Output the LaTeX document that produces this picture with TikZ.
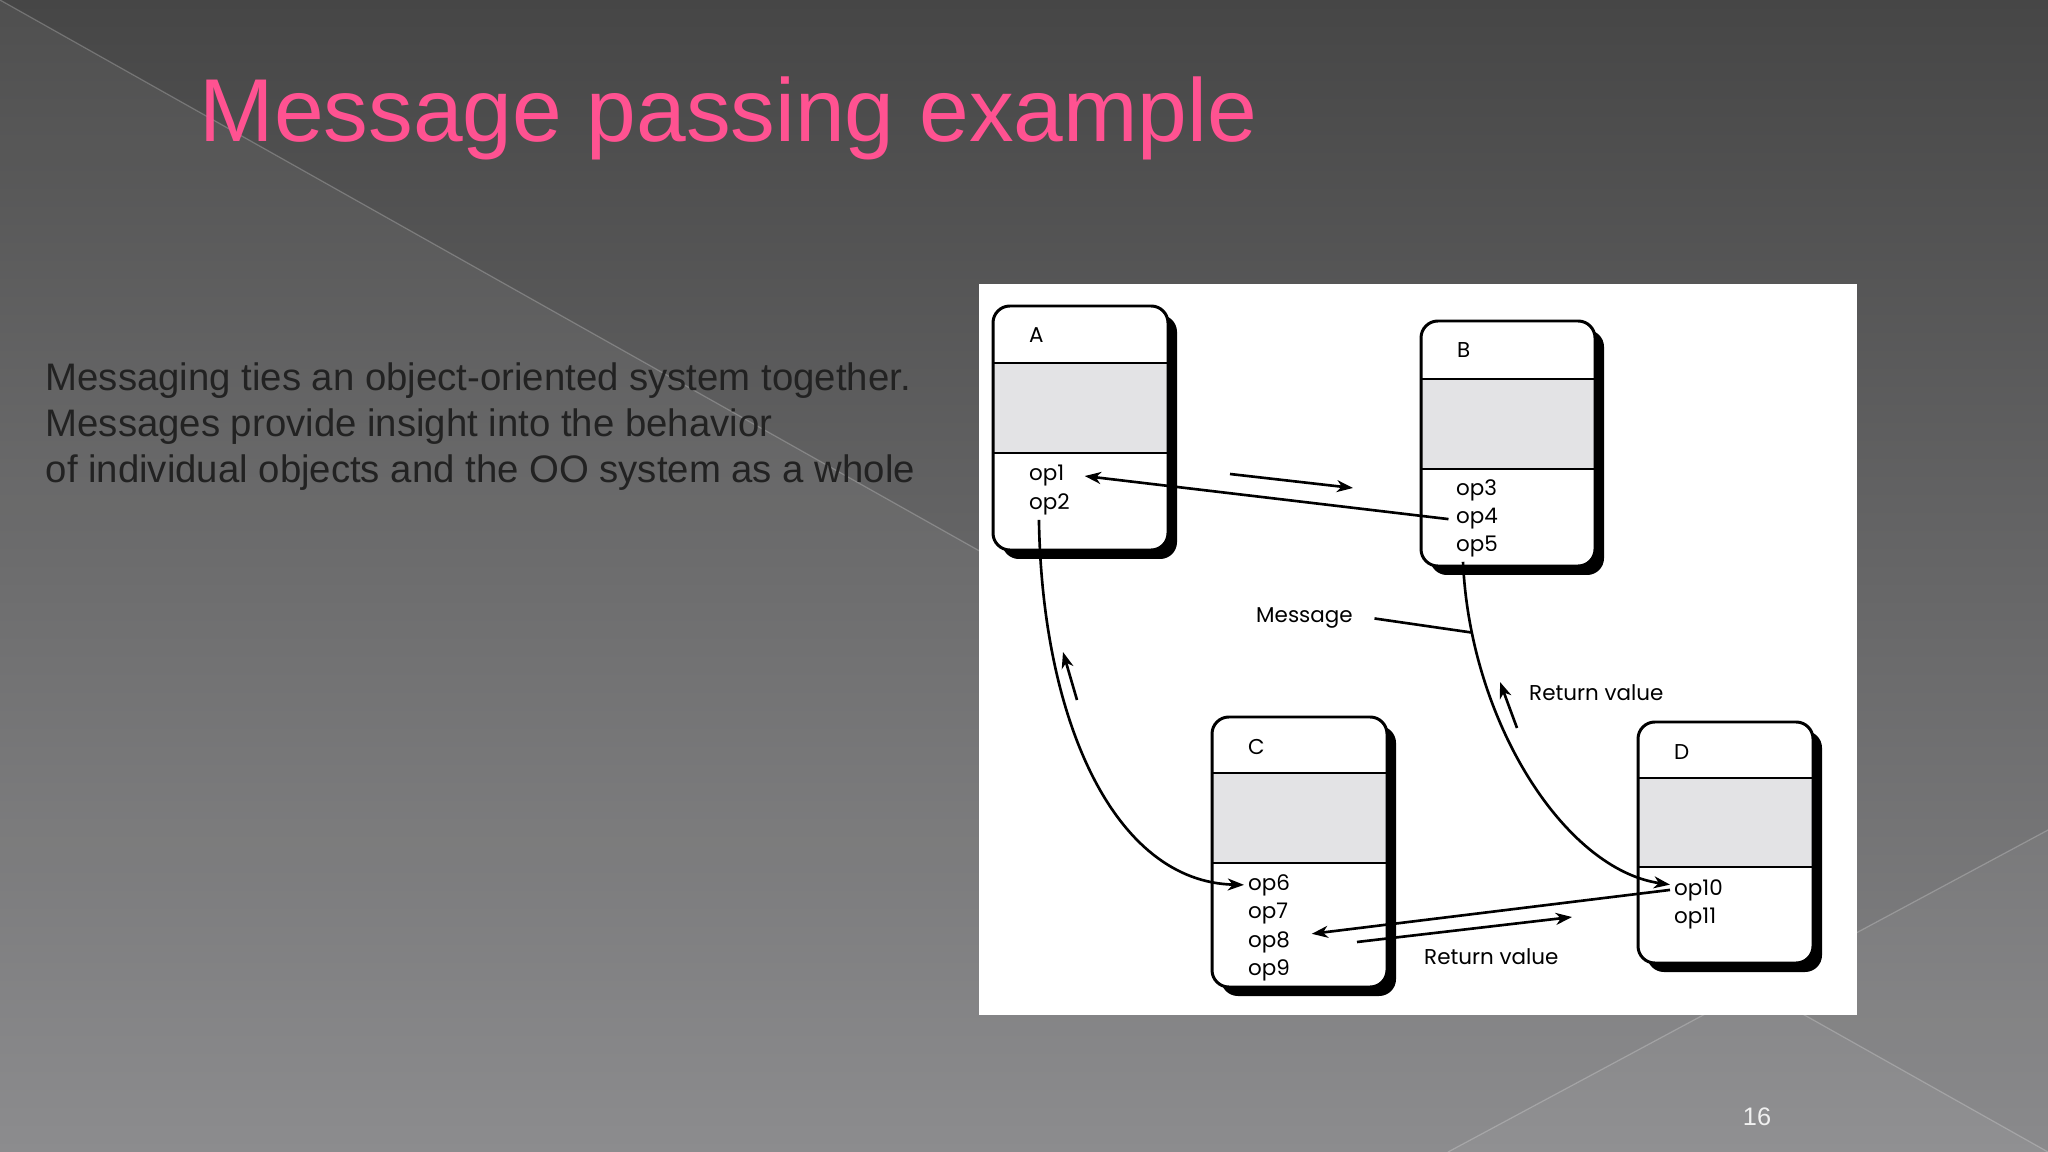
\documentclass[tikz,border=0pt]{standalone}
\usepackage{fontspec}
\setmainfont{Liberation Sans}
\newfontfamily\figfont{Poppins}
\usetikzlibrary{arrows.meta}
\definecolor{titlepink}{RGB}{255,82,145}
\definecolor{bodytext}{RGB}{34,34,34}
\definecolor{bandgray}{RGB}{227,227,229}
\definecolor{bgtop}{RGB}{70,70,70}
\definecolor{bgbot}{RGB}{134,134,136}

\newcommand{\objbox}[7]{%
  \fill[black,rounded corners=4.8pt] (#2+9,#3+9) rectangle (#4+9,#5+9);
  \fill[white,rounded corners=4.8pt] (#2,#3) rectangle (#4,#5);
  \fill[bandgray] (#2,#6) rectangle (#4,#7);
  \draw[boxline] (#2,#6) -- (#4,#6) (#2,#7) -- (#4,#7);
  \draw[boxline,rounded corners=4.8pt] (#2,#3) rectangle (#4,#5);
  \node[figtext,anchor=base west] (#1) at (#2+32,#3+37) {#1};
}

\begin{document}
\begin{tikzpicture}[x=0.01cm,y=-0.01cm,
    boxline/.style={line width=0.85pt},
    conn/.style={line width=0.75pt,>={Stealth[length=4.6pt,width=3.4pt,inset=1.4pt]}},
    figtext/.style={font=\figfont\fontsize{6.1pt}{7.2pt}\selectfont,inner sep=1pt},
    op/.style={figtext,anchor=base west},
    bodyline/.style={font=\fontsize{10.9pt}{13.1pt}\selectfont,text=bodytext,anchor=base west,inner sep=0pt}]
  \useasboundingbox (0,0) rectangle (2048,1152);
  \shade[top color=bgtop,bottom color=bgbot] (0,0) rectangle (2048,1152);
  \fill[white,opacity=0.05] (0,0) -- (2048,1152) -- (0,1152) -- cycle;
  \fill[white,opacity=0.04] (2048,830) -- (2048,1152) -- (1448,1152) -- cycle;
  \draw[white,opacity=0.22,line width=0.35pt] (0,0) -- (2048,1152);
  \draw[white,opacity=0.22,line width=0.35pt] (2048,830) -- (1448,1152);

  \node[font=\fontsize{25.4pt}{30pt}\selectfont,text=titlepink,anchor=base west,inner sep=0pt]
    (title) at (199,142) {Message passing example};
  \node[bodyline] (body1) at (45,391) {Messaging ties an object-oriented system together.};
  \node[bodyline] (body2) at (45,437) {Messages provide insight into the behavior};
  \node[bodyline] (body3) at (45,483) {of individual objects and the OO system as a whole};
  \node[font=\fontsize{7.2pt}{8pt}\selectfont,text=white!94!black,inner sep=0pt]
    (pagenum) at (1757,1117) {16};

  \fill[white] (979,284) rectangle (1857,1015);

  \objbox{A}{993}{306}{1168}{550}{363}{453}
  \objbox{B}{1421}{321}{1595}{566}{379}{469}
  \objbox{C}{1212}{717}{1387}{987}{773}{863}
  \objbox{D}{1638}{722}{1813}{963}{778}{867}

  \node[op] (op1) at (1025,481) {op1};
  \node[op] (op2) at (1025,510) {op2};
  \node[op] (op3) at (1452,495) {op3};
  \node[op] (op4) at (1452,524) {op4};
  \node[op] (op5) at (1452,552) {op5};
  \node[op] (op6) at (1244,890) {op6};
  \node[op] (op7) at (1244,918) {op7};
  \node[op] (op8) at (1244,947) {op8};
  \node[op] (op9) at (1244,975) {op9};
  \node[op] (op10) at (1670,895) {op10};
  \node[op] (op11) at (1670,923) {op11};

  \node[op] (msg) at (1252,623) {Message};
  \node[op] (ret1) at (1525,700) {Return value};
  \node[op] (ret2) at (1420,964) {Return value};

  \coordinate (ma1) at (1230,474);
  \coordinate (ma2) at (1353,488);
  \coordinate (ra1) at (1077,700);
  \coordinate (ra2) at (1063,652);
  \coordinate (ra3) at (1517,728);
  \coordinate (ra4) at (1500,682);
  \coordinate (ra5) at (1357,942);
  \coordinate (ra6) at (1572,917);

  \begin{scope}[conn]
    \draw[->] ([xshift=-1pt]op4.west) -- ([xshift=4.6pt]op1.east);
    \draw[->] (ma1) -- (ma2);
    \draw[->] ([xshift=-3pt]op2.south) .. controls +(3,200) and +(-130,-3) .. (op6.west);
    \draw[->] (ra1) -- (ra2);
    \draw[->] ([xshift=-4pt]op5.south) .. controls +(7,160) and +(-105,-15) ..
      coordinate[pos=0.15] (msgpt) ([yshift=1.5pt]op10.west);
    \draw ([xshift=5pt]msg.east) -- (msgpt);
    \draw[->] (ra3) -- (ra4);
    \draw[->] (op10.west) -- ([xshift=5pt,yshift=2.3pt]op8.east);
    \draw[->] (ra5) -- (ra6);
  \end{scope}
\end{tikzpicture}
\end{document}
